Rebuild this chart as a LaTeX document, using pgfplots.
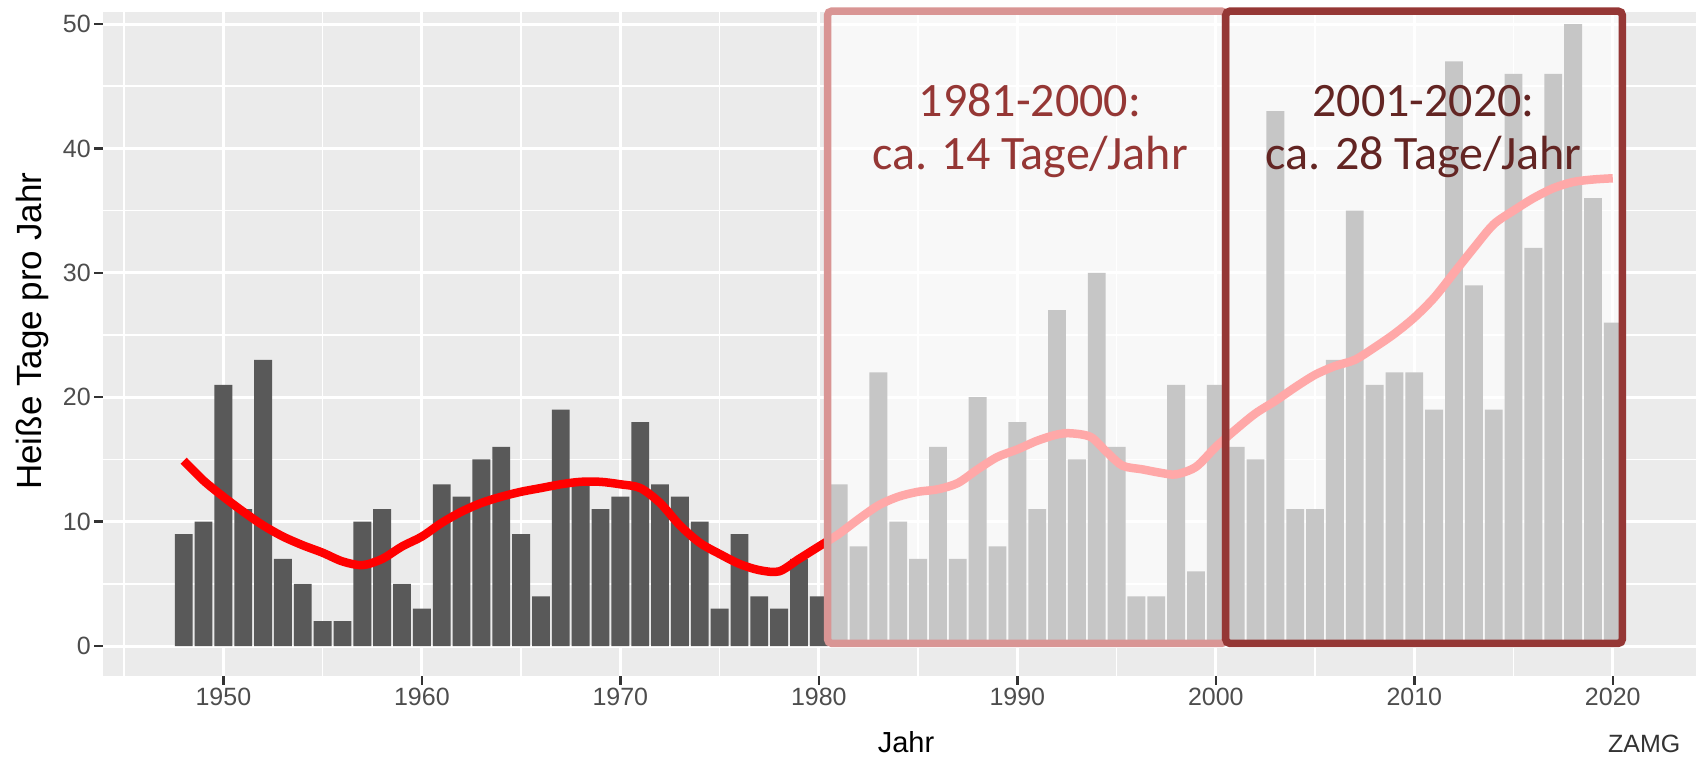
\documentclass[border=0pt]{standalone}
\usepackage{pgfplots}
\pgfplotsset{compat=1.18}
\usepackage{fontspec}
\setmainfont{Liberation Sans}
\newfontfamily\calibri{Carlito}
\definecolor{panelbg}{HTML}{EBEBEB}
\definecolor{darkbar}{HTML}{595959}
\definecolor{pinkbox}{HTML}{D99594}
\definecolor{darkbox}{HTML}{953735}
\definecolor{txtone}{HTML}{953735}
\definecolor{txttwo}{HTML}{632523}
\definecolor{ticklab}{HTML}{4D4D4D}
\definecolor{tickc}{HTML}{333333}
\begin{document}
\begin{tikzpicture}
\useasboundingbox (0,0) rectangle (1696bp,758bp);
\begin{axis}[
  at={(102.7bp,82bp)}, anchor=south west,
  width=1593.3bp, height=664.3bp, scale only axis,
  xmin=1943.92, xmax=2024.19, ymin=-2.41, ymax=50.99,
  clip=false,
  axis background/.style={fill=panelbg},
  axis line style={draw=none},
  xtick={1950,1960,...,2020},
  minor xtick={1945,1955,...,2025},
  ytick={0,10,...,50},
  minor ytick={5,15,...,45},
  grid=both,
  major grid style={white, line width=3bp},
  minor grid style={white, line width=1.6bp},
  xtick pos=left, ytick pos=left,
  tick align=outside,
  major tick length=8.5bp,
  minor tick length=0pt,
  major tick style={line width=2.5bp, color=tickc},
  /pgf/number format/1000 sep={},
  /pgf/number format/assume math mode=true,
  ticklabel style={font=\fontsize{25bp}{30bp}\selectfont, text=ticklab},
  xlabel={Jahr},
  ylabel={Heiße Tage pro Jahr},
  xlabel style={font=\fontsize{29bp}{33bp}\selectfont, text=black, at={(axis description cs:0.5042,-0.0994)}, anchor=center},
  ylabel style={font=\fontsize{35bp}{40bp}\selectfont, text=black, at={(axis description cs:-0.0440,0.519)}, anchor=center},
]
\addplot[ybar, bar width=0.9, fill=darkbar, draw=none] coordinates {
(1948,9) (1949,10) (1950,21) (1951,11) (1952,23) (1953,7) (1954,5) (1955,2) (1956,2) (1957,10)
(1958,11) (1959,5) (1960,3) (1961,13) (1962,12) (1963,15) (1964,16) (1965,9) (1966,4) (1967,19)
(1968,13) (1969,11) (1970,12) (1971,18) (1972,13) (1973,12) (1974,10) (1975,3) (1976,9) (1977,4)
(1978,3) (1979,7) (1980,4) (1981,13) (1982,8) (1983,22) (1984,10) (1985,7) (1986,16) (1987,7)
(1988,20) (1989,8) (1990,18) (1991,11) (1992,27) (1993,15) (1994,30) (1995,16) (1996,4) (1997,4)
(1998,21) (1999,6) (2000,21) (2001,16) (2002,15) (2003,43) (2004,11) (2005,11) (2006,23) (2007,35)
(2008,21) (2009,22) (2010,22) (2011,19) (2012,47) (2013,29) (2014,19) (2015,46) (2016,32) (2017,46)
(2018,50) (2019,36) (2020,26)
};
\addplot[smooth, tension=0.5, color=red, line width=8.5bp, line join=round] coordinates {
(1948,14.9) (1949,13.3) (1950,12.0) (1951,10.8) (1952,9.7) (1953,8.8) (1954,8.1) (1955,7.5)
(1956,6.8) (1957,6.5) (1958,7.0) (1959,8.0) (1960,8.8) (1961,9.9) (1962,10.8) (1963,11.5)
(1964,12.0) (1965,12.4) (1966,12.7) (1967,13.0) (1968,13.2) (1969,13.2) (1970,13.0) (1971,12.7)
(1972,11.5) (1973,9.7) (1974,8.3) (1975,7.4) (1976,6.6) (1977,6.1) (1978,6.0) (1979,7.0)
(1980,8.0) (1981,9.0) (1982,10.2) (1983,11.3) (1984,12.0) (1985,12.4) (1986,12.6) (1987,13.1)
(1988,14.2) (1989,15.2) (1990,15.8) (1991,16.5) (1992,17.0) (1992.7,17.1) (1993.7,16.8) (1994.5,15.6)
(1995.3,14.5) (1996.3,14.2) (1997.3,13.9) (1998,13.8) (1999,14.4) (2000,16.0) (2001,17.4) (2002,18.7)
(2003,19.7) (2004,20.8) (2005,21.8) (2006,22.5) (2007,23.0) (2008,24.0) (2009,25.1) (2010,26.4)
(2011,28.0) (2012,30.0) (2013,32.0) (2014,33.9) (2015,35.0) (2016,36.0) (2017,36.8) (2018,37.3)
(2019,37.5) (2020,37.6)
};
\fill[white, opacity=0.66] (axis cs:1980.44,0.22) rectangle (axis cs:2020.48,51.03);
\draw[pinkbox, line width=7.5bp, rounded corners=4bp] (axis cs:1980.44,0.22) rectangle (axis cs:2000.5,51.03);
\draw[darkbox, line width=7.5bp, rounded corners=4bp] (axis cs:2000.5,0.22) rectangle (axis cs:2020.48,51.03);
\node[anchor=base, inner sep=0pt, text=txtone, font=\calibri\fontsize{48bp}{53bp}\selectfont] at (axis cs:1990.64,42.54) {1981-2000:};
\node[anchor=base, inner sep=0pt, text=txtone, font=\calibri\fontsize{48bp}{53bp}\selectfont] at (axis cs:1990.64,38.28) {ca. 14 Tage/Jahr};
\node[anchor=base, inner sep=0pt, text=txttwo, font=\calibri\fontsize{48bp}{53bp}\selectfont] at (axis cs:2010.47,42.54) {2001-2020:};
\node[anchor=base, inner sep=0pt, text=txttwo, font=\calibri\fontsize{48bp}{53bp}\selectfont] at (axis cs:2010.47,38.28) {ca. 28 Tage/Jahr};
\end{axis}
\node[anchor=base west, inner sep=0pt, text=tickc, font=\fontsize{25bp}{30bp}\selectfont] at (1608bp,6bp) {ZAMG};
\end{tikzpicture}
\end{document}
